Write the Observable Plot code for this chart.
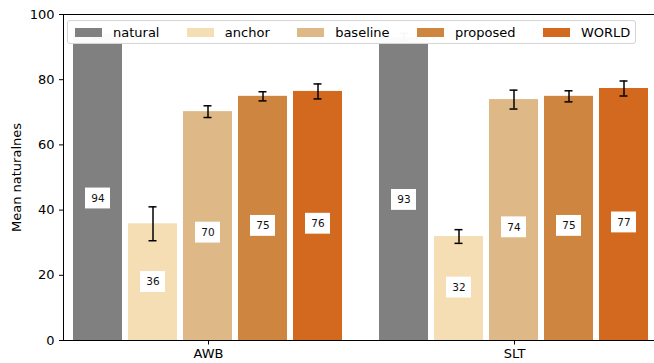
<!DOCTYPE html>
<html><head><meta charset="utf-8">
<script src="https://cdn.jsdelivr.net/npm/d3@7"></script>
<script src="https://cdn.jsdelivr.net/npm/@observablehq/plot@0.6"></script>
<style>
body{margin:0;background:#fff;overflow:hidden}
#wrap{position:relative;width:654px;height:363px;font-family:"DejaVu Sans",sans-serif;overflow:hidden}
.legend{position:absolute;left:67px;top:20px;width:569px;height:24px;box-sizing:border-box;border:1px solid #d5d5d5;border-radius:3px;background:rgba(255,255,255,0.97);display:flex;align-items:center;padding-left:7px;font-size:13px;color:#000}
.legend .item{display:flex;align-items:center;margin-right:27.4px}
.legend .sw{width:27px;height:9px;margin-right:11px}
</style>
</head><body>
<div id="wrap"></div>
<script>
const groups = ["AWB", "SLT"];
const methods = ["natural", "anchor", "baseline", "proposed", "WORLD"];
const colors = ["#808080", "#f5deb3", "#deb887", "#cd853f", "#d2691e"];
const awbMeans = [94.0, 35.8, 70.2, 74.9, 76.4];
const awbErr = [1.2, 5.2, 1.8, 1.4, 2.3];
const sltMeans = [93.0, 31.9, 73.9, 74.9, 77.3];
const sltErr = [1.2, 2.1, 2.9, 1.7, 2.3];
const yTicks = [0, 20, 40, 60, 80, 100];

const means = {AWB: awbMeans, SLT: sltMeans};
const errs = {AWB: awbErr, SLT: sltErr};
const data = groups.flatMap(g => methods.map((m, i) => ({group: g, method: m, mean: means[g][i], err: errs[g][i]})));
const labelY = d => 0.44 * d.mean + 2.2;
const fmt = d3.format(".0f");

const chart = Plot.plot({
  width: 654, height: 363,
  marginLeft: 62, marginRight: -6, marginTop: 14, marginBottom: 23,
  style: {fontFamily: "DejaVu Sans, sans-serif", fontSize: "13px", color: "#000", background: "transparent"},
  fx: {domain: groups, paddingInner: 0.0521, paddingOuter: 0, label: null},
  x: {domain: methods, paddingInner: 0.103, paddingOuter: 0.1614, axis: null},
  y: {domain: [0, 100]},
  color: {domain: methods, range: colors},
  marks: [
    Plot.barY(data, {fx: "group", x: "method", y: "mean", fill: "method"}),
    Plot.ruleX(data, {fx: "group", x: "method", y1: d => d.mean - d.err, y2: d => d.mean + d.err, stroke: "black", strokeWidth: 1.5}),
    Plot.tickY(data, {fx: "group", x: "method", y: d => d.mean - d.err, stroke: "black", strokeWidth: 1.5, insetLeft: 20.5, insetRight: 20.5}),
    Plot.tickY(data, {fx: "group", x: "method", y: d => d.mean + d.err, stroke: "black", strokeWidth: 1.5, insetLeft: 20.5, insetRight: 20.5}),
    Plot.barY(data, {fx: "group", x: "method", y1: d => labelY(d) - 3.2, y2: d => labelY(d) + 3.2, fill: "white", insetLeft: 12, insetRight: 12}),
    Plot.text(data, {fx: "group", x: "method", y: labelY, text: d => fmt(d.mean), fontSize: 10.5, fill: "#111"}),
    Plot.ruleY([0], {stroke: "black", strokeWidth: 1, insetRight: -16}),
    Plot.ruleY([100], {stroke: "black", strokeWidth: 1, insetRight: -16}),
    Plot.frame({anchor: "left", facetAnchor: "left", stroke: "black", strokeWidth: 1}),
    Plot.axisY({ticks: yTicks, tickSize: 4, tickPadding: 5, label: "Mean naturalnes", labelAnchor: "center", labelOffset: 52, labelArrow: false, fontSize: 13}),
    Plot.axisFx({anchor: "bottom", tickSize: 4.5, tickPadding: 4, label: null, fontSize: 13})
  ]
});
const wrap = document.getElementById("wrap");
wrap.appendChild(chart);
const leg = document.createElement("div");
leg.className = "legend";
methods.forEach((m, i) => {
  const it = document.createElement("div");
  it.className = "item";
  const sw = document.createElement("div");
  sw.className = "sw";
  sw.style.background = colors[i];
  const t = document.createElement("span");
  t.textContent = m;
  it.appendChild(sw); it.appendChild(t);
  leg.appendChild(it);
});
wrap.appendChild(leg);
</script>
</body></html>
